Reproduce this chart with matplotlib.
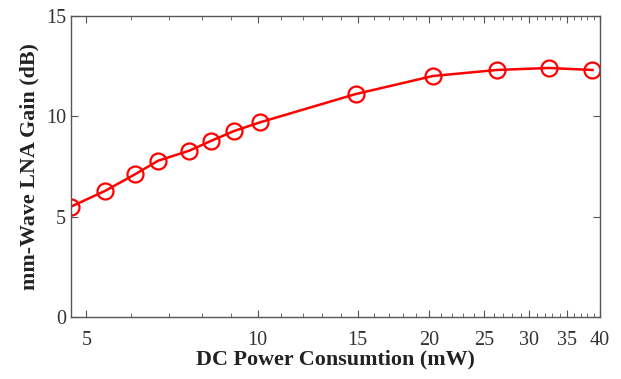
import matplotlib.pyplot as plt
from matplotlib.ticker import FixedLocator, NullFormatter
import numpy as np

plt.rcParams['font.family'] = ['Liberation Serif', 'DejaVu Serif']

power_mw = [4.70, 5.40, 6.09, 6.69, 7.59, 8.29, 9.10, 10.10, 14.88, 20.34, 26.33, 32.49, 38.8]
gain_db = [5.50, 6.29, 7.11, 7.79, 8.29, 8.78, 9.27, 9.70, 11.11, 12.01, 12.31, 12.41, 12.31]

x_ticks = [5, 10, 15, 20, 25, 30, 35, 40]
y_ticks = [0, 5, 10, 15]

fig = plt.figure(figsize=(6.21, 3.79), dpi=100)
ax = fig.add_axes([71/621, 1 - 317/379, 529/621, 301/379])

ax.plot(power_mw, gain_db, '-', color='#ff0000', lw=1.8,
        marker='o', markersize=11.5, mfc='none', mec='#ff0000', mew=1.6)

ax.set_xscale('log')
ax.set_xlim(4.7, 40)
ax.set_ylim(0, 15)
ax.xaxis.set_major_locator(FixedLocator(x_ticks))
ax.xaxis.set_major_formatter(plt.FuncFormatter(lambda x, loc: "{:d}".format(int(round(x)))))
ax.xaxis.set_minor_locator(FixedLocator([v for v in range(5, 41) if v not in x_ticks]))
ax.xaxis.set_minor_formatter(NullFormatter())
ax.set_yticks(y_ticks)

for s in ax.spines.values():
    s.set_color('#555555')
    s.set_linewidth(1.0)
ax.tick_params(which='both', direction='in', top=True, right=True, colors='#555555',
               labelcolor='#333333', labelsize=14.5)
ax.tick_params(which='major', length=5)
ax.tick_params(which='minor', length=3)
ax.tick_params(axis='x', pad=10)

ax.set_xlabel('DC Power Consumtion (mW)', fontsize=15.8, fontweight='bold', color='#222222', labelpad=0)
ax.set_ylabel('mm-Wave LNA Gain (dB)', fontsize=15.8, fontweight='bold', color='#222222', labelpad=5)

plt.savefig('out.png')
